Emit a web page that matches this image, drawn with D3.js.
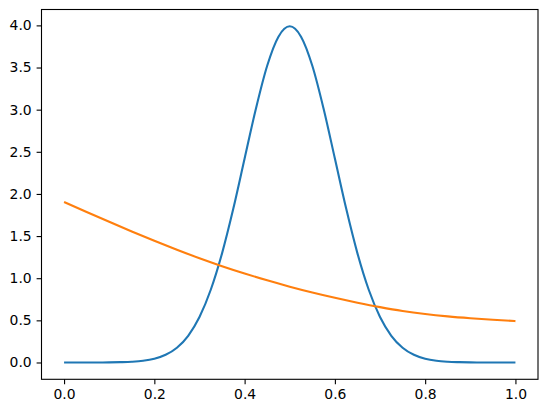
<!DOCTYPE html>
<html>
<head>
<meta charset="utf-8">
<script src="https://cdn.jsdelivr.net/npm/d3@7"></script>
<style>
  body { margin: 0; background: #fff; }
</style>
</head>
<body>
<div id="chart"></div>
<script>
// values
const blueX = [0, 0.025, 0.05, 0.075, 0.1, 0.125, 0.15, 0.175, 0.2, 0.225, 0.25, 0.275, 0.3, 0.325, 0.35, 0.375, 0.4, 0.425, 0.45, 0.475, 0.5,
  0.525, 0.55, 0.575, 0.6, 0.625, 0.65, 0.675, 0.7, 0.725, 0.75, 0.775, 0.8, 0.825, 0.85, 0.875, 0.9, 0.925, 0.95, 0.975, 1];
const blueY = [0, 0, 0, 0, 0.001, 0.004, 0.009, 0.020, 0.044, 0.091, 0.175, 0.317, 0.540, 0.863, 1.295, 1.826, 2.420, 3.011, 3.521, 3.866, 3.989,
  3.866, 3.521, 3.011, 2.420, 1.826, 1.295, 0.863, 0.540, 0.317, 0.175, 0.091, 0.044, 0.020, 0.009, 0.004, 0.001, 0, 0, 0, 0];

const orangeX = [0, 0.05, 0.1, 0.15, 0.2, 0.25, 0.3, 0.35, 0.4, 0.45, 0.5, 0.55, 0.6, 0.65, 0.7, 0.75, 0.8, 0.85, 0.9, 0.95, 1];
const orangeY = [1.905, 1.786, 1.669, 1.555, 1.444, 1.338, 1.237, 1.143, 1.056, 0.975, 0.900, 0.831, 0.768, 0.710, 0.657, 0.611, 0.575, 0.547, 0.525, 0.507, 0.491];

const xTicks = [0, 0.2, 0.4, 0.6, 0.8, 1.0];
const yTicks = [0, 0.5, 1.0, 1.5, 2.0, 2.5, 3.0, 3.5, 4.0];

const W = 547, H = 413;
const margin = { top: 9.5, right: 9, bottom: 33.7, left: 41.5 };
const width = W - margin.left - margin.right;
const height = H - margin.top - margin.bottom;

const svg = d3.select("#chart")
  .append("svg")
  .attr("width", W)
  .attr("height", H)
  .append("g")
  .attr("transform", `translate(${margin.left},${margin.top})`);

const x = d3.scaleLinear().domain([-0.05, 1.05]).range([0, width]);
const y = d3.scaleLinear().domain([-0.1995, 4.1885]).range([height, 0]);

const fmt = d3.format(".1f");

// Axes
const xAxis = svg.append("g")
  .attr("transform", `translate(0,${height})`)
  .call(d3.axisBottom(x).tickValues(xTicks).tickFormat(fmt).tickSize(4.9).tickPadding(4.9));

const yAxis = svg.append("g")
  .call(d3.axisLeft(y).tickValues(yTicks).tickFormat(fmt).tickSize(4.9).tickPadding(4.9));

[xAxis, yAxis].forEach(a => {
  a.select(".domain").remove();
  a.selectAll("line").attr("stroke", "#000").attr("stroke-width", 1.1);
  a.selectAll("text")
    .attr("fill", "#000")
    .style("font-family", "DejaVu Sans")
    .style("font-size", "13.9px");
});

// Lines
const line = d3.line()
  .x(d => x(d[0]))
  .y(d => y(d[1]))
  .curve(d3.curveMonotoneX);

svg.append("path")
  .datum(blueX.map((v, i) => [v, blueY[i]]))
  .attr("fill", "none")
  .attr("stroke", "#1f77b4")
  .attr("stroke-width", 2.1)
  .attr("d", line);

svg.append("path")
  .datum(orangeX.map((v, i) => [v, orangeY[i]]))
  .attr("fill", "none")
  .attr("stroke", "#ff7f0e")
  .attr("stroke-width", 2.1)
  .attr("d", line);

// Frame
svg.append("rect")
  .attr("x", 0)
  .attr("y", 0)
  .attr("width", width)
  .attr("height", height)
  .attr("fill", "none")
  .attr("stroke", "#000")
  .attr("stroke-width", 1.1);
</script>
</body>
</html>
